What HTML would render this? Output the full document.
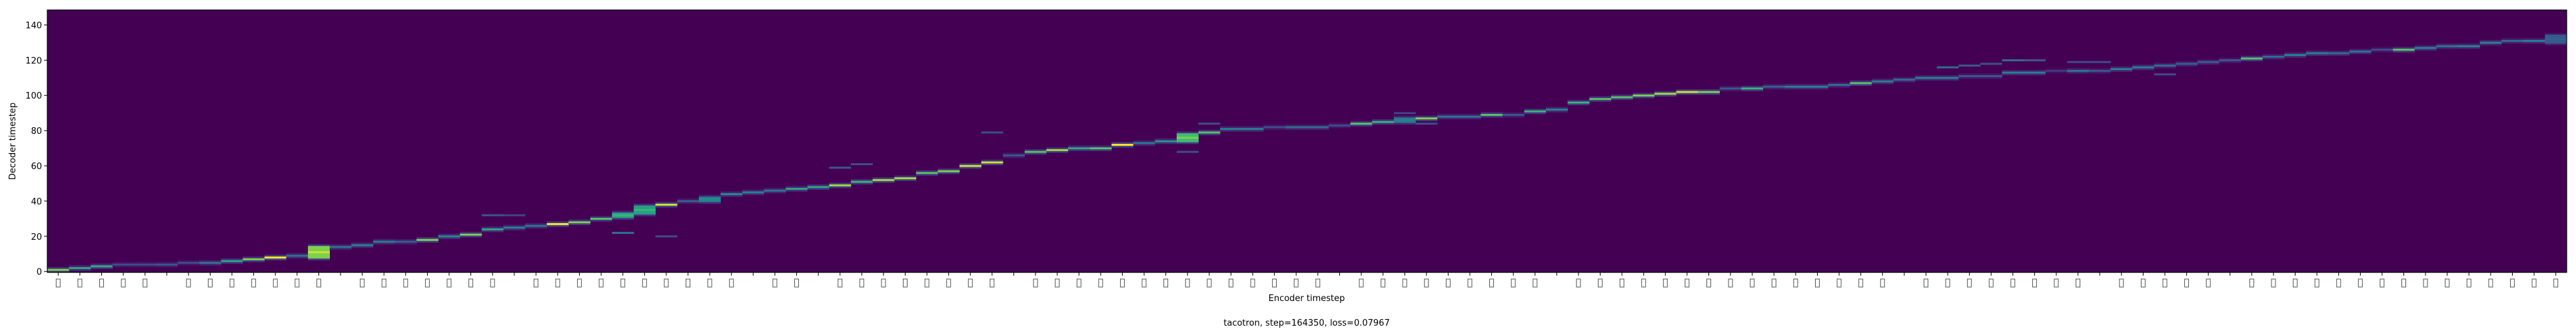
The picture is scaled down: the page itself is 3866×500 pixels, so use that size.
<!DOCTYPE html>
<html><head><meta charset="utf-8">
<style>
html,body{margin:0;padding:0;background:#fff;}
svg{display:block;}
text{font-family:"DejaVu Sans","Liberation Sans",sans-serif;fill:#000;}
</style></head>
<body>
<svg id="chart" width="3866" height="500" viewBox="0 0 3866 500" xmlns="http://www.w3.org/2000/svg">
  <rect x="0" y="0" width="3866" height="500" fill="#fff"/>
  <g id="cells"></g>
  <g id="axes"></g>
  <text x="1961" y="452" font-size="13" text-anchor="middle">Encoder timestep</text>
  <text transform="translate(23,212) rotate(-90)" font-size="13" text-anchor="middle">Decoder timestep</text>
  <text x="1961" y="489" font-size="13" text-anchor="middle">tacotron, step=164350, loss=0.07967</text>
</svg>
<script>
// ---- data ----
const peakRow = [1,2,3,4,4,4,5,5,6,7,8,9,11,14,15,17,17,18,20,21,24,25,26,27,28,30,32,35,38,40,41,44,45,46,47,48,49,51,52,53,56,57,60,62,66,68,69,70,70,72,73,74,76,79,81,81,82,82,82,83,84,85,86,87,88,88,89,89,91,92,96,98,99,100,101,102,102,104,104,105,105,105,106,107,108,109,110,110,111,111,113,113,114,114,114,115,116,117,118,119,120,121,122,123,124,124,125,126,126,127,128,128,130,131,131,132];
const peakVal = [.85,.7,.72,.3,.3,.35,.3,.5,.7,.85,1.0,.5,.95,.5,.55,.55,.4,.85,.6,.85,.7,.55,.5,1.0,.85,.8,.75,.75,.95,.4,.6,.6,.55,.5,.7,.7,.9,.75,.9,.9,.8,.85,.95,.95,.35,.8,.9,.7,.8,1.0,.5,.65,.85,.8,.55,.55,.3,.45,.45,.3,.8,.75,.55,.85,.5,.5,.8,.35,.75,.55,.75,.8,.8,.85,.9,.95,.85,.35,.75,.4,.55,.55,.45,.8,.55,.45,.55,.55,.35,.35,.55,.55,.2,.5,.35,.55,.55,.45,.4,.4,.35,.8,.45,.55,.55,.45,.5,.3,.8,.55,.5,.55,.55,.45,.55,.4];
const spread = [1,1,1,1,1,1,1,1,1,1,1,1,4,1,1,1,1,1,1,1,1,1,1,1,1,1,2,3,1,1,2,1,1,1,1,1,1,1,1,1,1,1,1,1,1,1,1,1,1,1,1,1,3,1,1,1,1,1,1,1,1,1,2,1,1,1,1,1,1,1,1,1,1,1,1,1,1,1,1,1,1,1,1,1,1,1,1,1,1,1,1,1,1,1,1,1,1,1,1,1,1,1,1,1,1,1,1,1,1,1,1,1,1,1,1,3];
const secCol = [20,21,26,28,36,37,43,52,53,62,63,87,88,89,90,91,93,94,97];
const secRow = [32,32,22,20,59,61,79,68,84,90,84,116,117,118,120,120,119,119,112];
const secVal = [.35,.25,.5,.3,.35,.3,.3,.3,.3,.25,.3,.45,.35,.3,.45,.35,.3,.3,.3];
const yTicks = [0,20,40,60,80,100,120,140];
const blankTicks = [5,13,21,32,35,44,59,69,85,94,100];

// ---- scales ----
const X0=71, X1=3852, YT=15, YB=409, NC=peakRow.length, RMIN=-0.5, RMAX=148.5;
const cw=(X1-X0)/NC;
const xs = c => X0 + c*cw;
const ys = r => YB - (r - RMIN)*(YB-YT)/(RMAX-RMIN);
const rh = (YB-YT)/(RMAX-RMIN);

const stops=[[0,[68,1,84]],[.13,[72,36,117]],[.25,[65,68,135]],[.38,[53,95,141]],[.5,[42,120,142]],[.63,[33,145,140]],[.75,[53,183,121]],[.88,[144,215,67]],[1,[253,231,37]]];
function viridis(v){v=Math.max(0,Math.min(1,v));for(let i=1;i<stops.length;i++){if(v<=stops[i][0]){const a=stops[i-1],b=stops[i],t=(v-a[0])/(b[0]-a[0]);return 'rgb('+a[1].map((q,k)=>Math.round(q+(b[1][k]-q)*t)).join(',')+')';}}return 'rgb(253,231,37)';}

const NS='http://www.w3.org/2000/svg';
const cells=document.getElementById('cells');
const axes=document.getElementById('axes');
function mk(tag,attrs,parent){const e=document.createElementNS(NS,tag);for(const k in attrs)e.setAttribute(k,attrs[k]);parent.appendChild(e);return e;}

const bg=mk('rect',{x:X0,y:YT,width:X1-X0,height:YB-YT,fill:viridis(0)},cells);



function cell(c,r,v){
  const e=mk('rect',{x:xs(c),y:ys(r+0.5),width:cw+0.3,height:rh+0.3,fill:viridis(v)},cells);
  
  
}
for(let c=0;c<NC;c++){
  const r=peakRow[c],v=peakVal[c],s=spread[c];
  cell(c,r-s,v*0.25);
  cell(c,r+s,v*0.2);
  for(let k=-(s-1);k<s;k++) if(k!==0) cell(c,r+k,v*0.9);
  cell(c,r,v);
}
for(let i=0;i<secCol.length;i++) cell(secCol[i],secRow[i],secVal[i]);

// frame
const fr=mk('rect',{x:X0,y:YT,width:X1-X0,height:YB-YT,fill:'none',stroke:'#000','stroke-width':1.2},axes);



yTicks.forEach(t=>{
  const y=ys(t);
  const l=mk('line',{x1:X0-5,x2:X0,y1:y,y2:y,stroke:'#000','stroke-width':1},axes);
  
  
  const tx=mk('text',{x:X0-8,y:y+5,'font-size':13,'text-anchor':'end'},axes);
  tx.textContent=t;
  
  
});
for(let c=0;c<NC;c++){
  const x=xs(c)+cw/2;
  const l=mk('line',{x1:x,x2:x,y1:YB,y2:YB+5,stroke:'#000','stroke-width':1},axes);
  
  
  if(blankTicks.indexOf(c)<0){
    const b=mk('rect',{x:x-3,y:419,width:6,height:12,fill:'none',stroke:'#555','stroke-width':1},axes);
    
    
  }
}
</script>
</body></html>
